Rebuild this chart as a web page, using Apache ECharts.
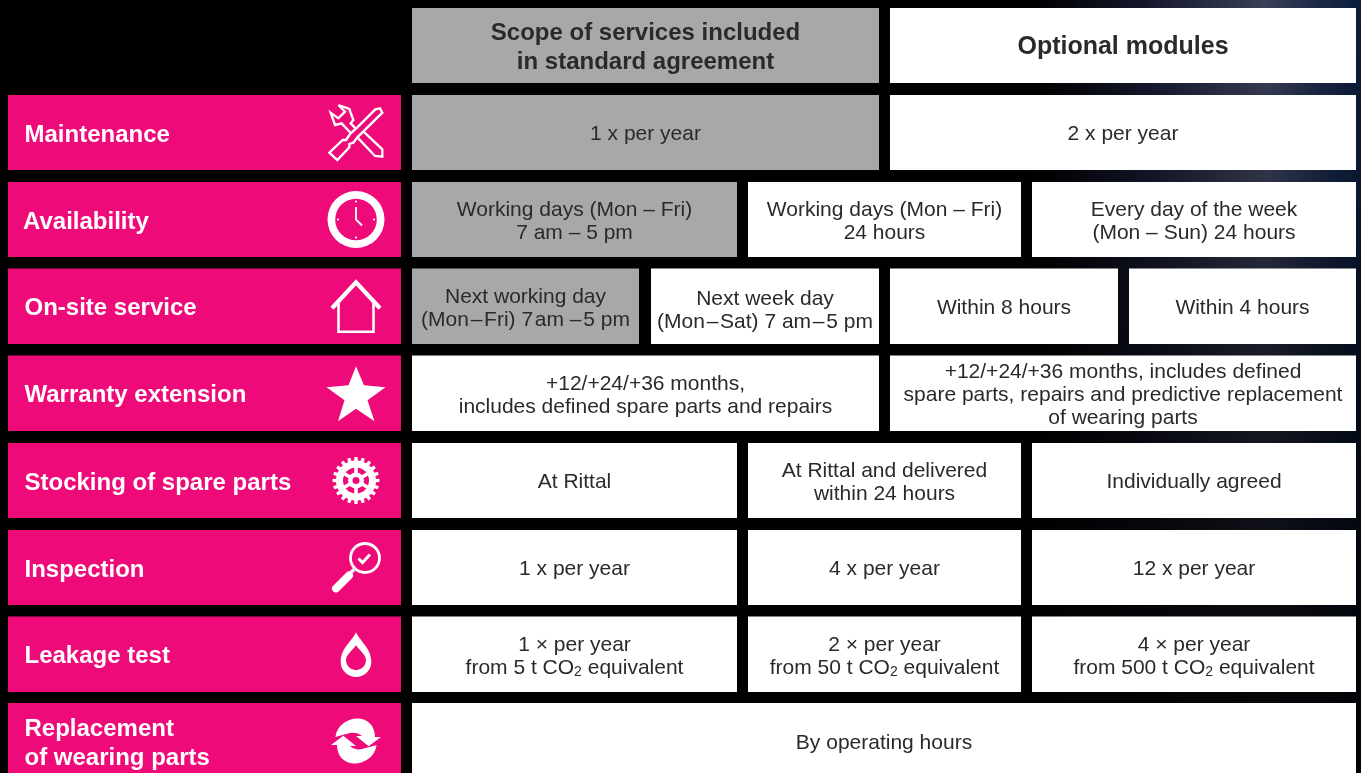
<!DOCTYPE html>
<html><head><meta charset="utf-8">
<style>html,body{margin:0;padding:0;background:#000;overflow:hidden}#c{width:1361px;height:773px}</style>
<script src="https://cdn.jsdelivr.net/npm/echarts@6/dist/echarts.min.js"></script>
</head><body><div id="c"></div>
<script>
// ---- content ----
const headers = [
  ['Scope of services included\nin standard agreement', 0, 2, 'std'],
  ['Optional modules', 3, 5, 'opt']
];
const rowLabels = ['Maintenance','Availability','On-site service','Warranty extension','Stocking of spare parts','Inspection','Leakage test','Replacement\nof wearing parts'];
const rowIcons = ['tools','clock','house','star','gear','search','drop','cycle'];
const maintenance = [['1 x per year',0,2,'std'],['2 x per year',3,5,'opt']];
const availability = [['Working days (Mon – Fri)\n7 am – 5 pm',0,1,'std'],['Working days (Mon – Fri)\n24 hours',2,3,'opt'],['Every day of the week\n(Mon – Sun) 24 hours',4,5,'opt']];
const onSite = [['Next working day\n(Mon\u200a–\u200aFri) 7\u200aam –\u200a5 pm',0,0,'std'],['Next week day\n(Mon\u200a–\u200aSat) 7 am\u200a–\u200a5 pm',1,2,'opt'],['Within 8 hours',3,4,'opt'],['Within 4 hours',5,5,'opt']];
const warranty = [['+12/+24/+36 months,\nincludes defined spare parts and repairs',0,2,'opt'],['+12/+24/+36 months, includes defined\nspare parts, repairs and predictive replacement\nof wearing parts',3,5,'opt']];
const stocking = [['At Rittal',0,1,'opt'],['At Rittal and delivered\nwithin 24 hours',2,3,'opt'],['Individually agreed',4,5,'opt']];
const inspection = [['1 x per year',0,1,'opt'],['4 x per year',2,3,'opt'],['12 x per year',4,5,'opt']];
const leakage = [['1 × per year\nfrom 5 t CO₂ equivalent',0,1,'opt'],['2 × per year\nfrom 50 t CO₂ equivalent',2,3,'opt'],['4 × per year\nfrom 500 t CO₂ equivalent',4,5,'opt']];
const replacement = [['By operating hours',0,5,'opt']];
const rowCells = [maintenance,availability,onSite,warranty,stocking,inspection,leakage,replacement];

// ---- layout ----
const W = 1361, H = 773;
const colStart = [412,651,748,890,1032,1129];
const colEnd   = [639,737,879,1021,1118,1356];
const headTop = 8, headBottom = 83;
const rowTop    = [95,182,268.5,355.5,443,530,616.5,703];
const rowBottom = [170,257,344,431,518,605,692,779];
const labelX0 = 8, labelX1 = 401, iconX = 356;
const PINK = '#ee0a78', GREY = '#a7a8aa', WHITE = '#ffffff', INK = '#2b2a2a';
const FONT = '"Liberation Sans", Arial, Helvetica, sans-serif';

const cells = [];
headers.forEach((h,i) => cells.push({text:h[0], c0:h[1], c1:h[2], kind:h[3], top:headTop, bottom:headBottom, head:true, size:i===0?24:25}));
rowCells.forEach((row,r) => row.forEach(c => cells.push({text:c[0], c0:c[1], c1:c[2], kind:c[3], top:rowTop[r], bottom:rowBottom[r], size:21})));

function cellItem(params, api){
  const d = cells[params.dataIndex];
  const p0 = api.coord([colStart[d.c0], d.top]);
  const p1 = api.coord([colEnd[d.c1], d.bottom]);
  const hasSub = d.text.indexOf('₂') >= 0;
  const text = hasSub ? d.text.split('\n').map(l => '{a|'+l.replace('₂','}{s|2}{a|')+'}').join('\n') : d.text;
  const style = {text, align:'center', verticalAlign:'middle', fontFamily:FONT, fontSize:d.size,
    fontWeight:d.head?'bold':'normal', lineHeight:d.head?29:23, fill:INK};
  if (hasSub) style.rich = {
    a:{fontFamily:FONT,fontSize:21,lineHeight:23,fill:INK},
    s:{fontFamily:FONT,fontSize:14,lineHeight:15,verticalAlign:'bottom',fill:INK}
  };
  const shift = d.text.indexOf('Next week') === 0 ? 4 : 2;
  return {type:'group', children:[
    {type:'rect', shape:{x:p0[0],y:p0[1],width:p1[0]-p0[0],height:p1[1]-p0[1]}, style:{fill:d.kind==='std'?GREY:WHITE}},
    {type:'text', x:(p0[0]+p1[0])/2, y:(p0[1]+p1[1])/2+shift, style}
  ]};
}

// icon glyphs, drawn around the middle of the icon slot
const white = {fill:WHITE, stroke:null};
function circ(r,style){return {type:'circle',shape:{cx:0,cy:0,r},style};}
function pth(d,style,extra){return Object.assign({type:'path',shape:{pathData:d},style},extra||{});}
const ICONS = {
  tools(){ const s={fill:'none',stroke:WHITE,lineWidth:7,lineJoin:'miter'};
    return [{type:'group',scaleX:1/3,scaleY:1/3,x:-56,y:-42.5,children:[
      pth('M115,45 L135,65 L115,85 L92,68 L105,105 L125,100 L152,129 M115,45 L148,57 L160,90 L152,100 L167,116 M190,124 L247,178 L247,200 L225,198 L172,142',s),
      pth('M240,55 L226,58 L172,112 L150,132 L138,150 L128,150 L88,188 L112,210 L148,172 L148,162 L160,158 L172,142 L247,68 Z',s)
    ]}];
  },
  clock(){ const kids=[{type:'ring',shape:{cx:0,cy:0,r:28.5,r0:20.8},style:white},
      pth('M0,0 L0,-12.5 M-0.5,-0.5 L6,6',{fill:'none',stroke:WHITE,lineWidth:1.8})];
    [[0,-18],[18,0],[0,18],[-18,0]].forEach(p=>kids.push({type:'circle',shape:{cx:p[0],cy:p[1],r:1.1},style:white}));
    return kids; },
  house(){ return [
    pth('M-24,2 L0,-24 L24,2',{fill:'none',stroke:WHITE,lineWidth:4.2}),
    pth('M-17.5,-5 L-17.5,25.5 L17.5,25.5 L17.5,-5',{fill:'none',stroke:WHITE,lineWidth:2.6})
  ];},
  star(){ return [pth('M0,-27 L8,-8 L29.5,-6 L11.5,7 L18.5,28 L0,15.5 L-18,28 L-11.5,7 L-29.5,-6 L-7.5,-8 Z',white)]; },
  gear(){ let d=''; const n=20;
    for(let i=0;i<n;i++){
      const step=2*Math.PI/n, a=i*step, pts=[[a-0.5*step,20],[a-0.28*step,20],[a-0.22*step,23.5],[a+0.22*step,23.5],[a+0.28*step,20]];
      pts.forEach((q,j)=>{d+=((i===0&&j===0)?'M':'L')+(q[1]*Math.cos(q[0])).toFixed(2)+','+(q[1]*Math.sin(q[0])).toFixed(2)+' ';});
    }
    d+='Z';
    const spokes=[]; for(let i=0;i<6;i++){const a=Math.PI/2+i*Math.PI/3; spokes.push('M0,0 L'+(17*Math.cos(a)).toFixed(2)+','+(17*Math.sin(a)).toFixed(2));}
    return [pth(d,white),circ(13,{fill:PINK}),pth(spokes.join(' '),{fill:'none',stroke:WHITE,lineWidth:3.6}),circ(8,{fill:WHITE}),circ(3.5,{fill:PINK})];
  },
  search(){ return [
    {type:'circle',shape:{cx:9,cy:-9.5,r:14.5},style:{fill:'none',stroke:WHITE,lineWidth:2.8}},
    pth('M2.5,-9 L6.5,-5 L14,-13',{fill:'none',stroke:WHITE,lineWidth:3}),
    pth('M-2,2 L-6,6',{fill:'none',stroke:WHITE,lineWidth:3.5}),
    pth('M-7,8 L-20,21',{fill:'none',stroke:WHITE,lineWidth:8,lineCap:'round'})
  ];},
  drop(){ return [
    pth('M0,-22 C4,-13 15.3,-6 15.3,7.5 A15.3,15.3 0 1 1 -15.3,7.5 C-15.3,-6 -4,-13 0,-22 Z',white),
    pth('M0,-9 C3,-4 10,0 10,6 A10,10 0 1 1 -10,6 C-10,0 -3,-4 0,-9 Z',{fill:PINK})
  ]; },
  cycle(){ const d='M-20.6,-4 C-19,-16 -8,-22.5 1,-22.5 C12,-22.5 19,-15 19,-4 L25,-4 L12.7,5.3 L0,-5 L6,-5 C3,-8 -2,-9 -6,-8 C-11,-7 -16,-5 -20.6,-4 Z';
    return [pth(d,white),pth(d,white,{rotation:Math.PI})]; }
};

function labelItem(params, api){
  const r = params.dataIndex;
  const p0 = api.coord([labelX0, rowTop[r]]);
  const p1 = api.coord([labelX1, rowBottom[r]]);
  const cy = (p0[1]+p1[1])/2;
  const ic = api.coord([iconX, r===7 ? rowTop[r]+38 : (rowTop[r]+rowBottom[r])/2]);
  return {type:'group', children:[
    {type:'rect', shape:{x:p0[0],y:p0[1],width:p1[0]-p0[0],height:p1[1]-p0[1]}, style:{fill:PINK}},
    {type:'text', x:r===1?23:24.5, y:cy+(r===7?3:2.5), style:{
      text:rowLabels[r], align:'left', verticalAlign:'middle',
      fontFamily:FONT, fontSize:24, fontWeight:'bold', lineHeight:29, fill:WHITE}},
    {type:'group', x:ic[0], y:ic[1], children:ICONS[rowIcons[r]]()}
  ]};
}

const chart = echarts.init(document.getElementById('c'), null, {renderer:'canvas', width:W, height:H});
chart.setOption({
  animation:false,
  backgroundColor:'#000',
  graphic:[
    {type:'rect', z:-2, shape:{x:0,y:0,width:W,height:H}, style:{fill:new echarts.graphic.LinearGradient(0,0,1,0,[
      {offset:0,color:'#000'},{offset:0.76,color:'#000'},{offset:0.84,color:'#14172b'},{offset:0.93,color:'#3a3f58'},{offset:0.97,color:'#1b2745'},{offset:1,color:'#0a1c3c'}])}},
    {type:'rect', z:-1, shape:{x:0,y:0,width:W,height:H}, style:{fill:new echarts.graphic.LinearGradient(0,0,0,1,[
      {offset:0,color:'rgba(0,0,0,0)'},{offset:0.25,color:'rgba(0,0,0,0.2)'},{offset:0.45,color:'rgba(0,0,0,0.55)'},{offset:0.7,color:'rgba(0,0,0,0.75)'},{offset:0.9,color:'rgba(0,0,0,0.9)'},{offset:1,color:'rgba(0,0,0,0.9)'}])}}
  ],
  grid:{left:0,right:0,top:0,bottom:0},
  xAxis:{type:'value',min:0,max:W,show:false},
  yAxis:{type:'value',min:0,max:H,inverse:true,show:false},
  series:[
    {type:'custom',coordinateSystem:'cartesian2d',clip:false,silent:true,renderItem:labelItem,
     data:rowLabels.map((l,i)=>[labelX0,rowTop[i]]),encode:{x:0,y:1}},
    {type:'custom',coordinateSystem:'cartesian2d',clip:false,silent:true,renderItem:cellItem,
     data:cells.map(c=>[colStart[c.c0],c.top]),encode:{x:0,y:1}}
  ]
});
</script></body></html>
